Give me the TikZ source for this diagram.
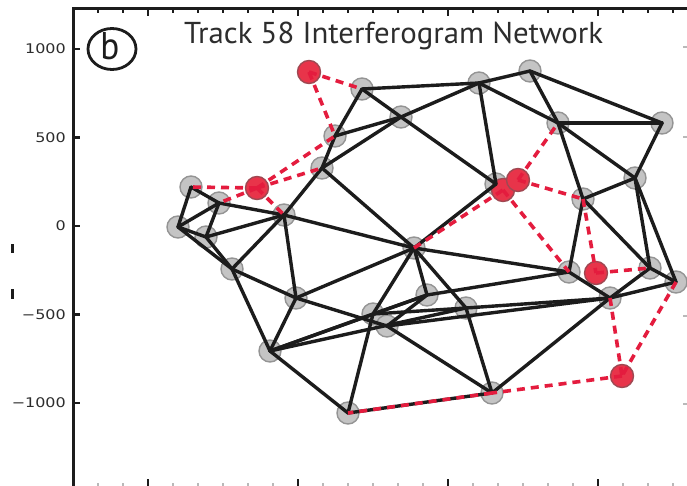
\documentclass[tikz,border=0pt]{standalone}
\usepackage{fontspec}
\setmainfont{PT Sans}
\newfontfamily\tickfont{DejaVu Sans}
\definecolor{axisdark}{RGB}{28,28,28}
\definecolor{textdark}{RGB}{45,45,45}
\definecolor{nodegray}{RGB}{196,196,196}
\definecolor{nodeedge}{RGB}{148,148,148}
\definecolor{nodered}{RGB}{232,52,74}
\definecolor{rededge}{RGB}{160,72,82}
\definecolor{linkblack}{RGB}{28,28,28}
\definecolor{linkred}{RGB}{228,28,62}
\definecolor{faintgray}{RGB}{185,185,185}
\tikzset{
  gnode/.style={circle, minimum size=22pt, inner sep=0pt, fill=nodegray, draw=nodeedge, line width=1.4pt},
  rnode/.style={circle, minimum size=23pt, inner sep=0pt, fill=nodered, draw=rededge, line width=1.4pt},
  link/.style={draw=linkblack, line width=3.4pt, line cap=round},
  rlink/.style={draw=linkred, line width=3.6pt, dash pattern=on 8pt off 6pt},
  axisline/.style={draw=axisdark, line width=3pt},
  ticklabel/.style={anchor=east, inner sep=0pt, text=textdark},
}
\begin{document}
\begin{tikzpicture}[x=1pt,y=-1pt]
\useasboundingbox (0,0) rectangle (687,486);
\fill[white] (0,0) rectangle (687,486);

% frame and ticks
\draw[axisline] (73,486) -- (73,8.5) -- (687,8.5);
\foreach \yy in {49,137.5,226,314.5,403} \draw[axisdark, line width=2.2pt] (73,\yy) -- (80,\yy);
\foreach \xx in {98,123,173,198,223,248,273,323,348,373,398,423,473,498,523,548,573,623,648,673} {
  \draw[axisdark, line width=1.3pt] (\xx,8.5) -- (\xx,13);
  \draw[faintgray, line width=1.5pt] (\xx,483) -- (\xx,486);
}
\foreach \xx in {148,298,448,598} {
  \draw[axisdark, line width=1.8pt] (\xx,8.5) -- (\xx,16);
  \draw[axisdark, line width=1.8pt] (\xx,479) -- (\xx,486);
}
\foreach \yy in {47,137,316,404} \draw[faintgray, line width=1.5pt] (683,\yy) -- (687,\yy);
\draw[axisdark, line width=3pt] (12,244) -- (12,253);
\draw[axisdark, line width=3pt] (12,289) -- (12,299);

% tick labels
\node[ticklabel] (t1) at (66,49) {\scalebox{1.2}[1]{\tickfont\fontsize{13.3}{14}\selectfont 1000}};
\node[ticklabel] (t2) at (66,137.5) {\scalebox{1.2}[1]{\tickfont\fontsize{13.3}{14}\selectfont 500}};
\node[ticklabel] (t3) at (66,226) {\scalebox{1.2}[1]{\tickfont\fontsize{13.3}{14}\selectfont 0}};
\node[ticklabel] (t4) at (66,314.5) {\scalebox{1.2}[1]{\tickfont\fontsize{13.3}{14}\selectfont −500}};
\node[ticklabel] (t5) at (66,403) {\scalebox{1.2}[1]{\tickfont\fontsize{13.3}{14}\selectfont −1000}};

% title and panel letter
\node[anchor=base west, inner sep=0pt, text=textdark] (title) at (184,44) {\resizebox{419pt}{21.5pt}{Track 58 Interferogram Network}};
\draw[axisdark, line width=2.8pt] (112,49) ellipse [x radius=24, y radius=20.5];
\node[anchor=base, inner sep=0pt, text=axisdark] (panel) at (110,60) {\resizebox{19pt}{27pt}{b}};

% acquisitions
\foreach \n/\px/\py in {A/178/227, B/191/187, C/219/203, D/206/237, E/232/269, F/284/215,
  G/296/298, H/270/351, I/322/168, J/335/136, K/362/89, L/401/117, M/479/83, N/530/71,
  O/558/123, P/662/123, Q/635/178, R/583/199, S/496/184, T/414/248, U/427/295, V/373/314,
  W/387/326, X/466/308, Y/569/272, Z/650/268, AA/676/282, AB/610/298, AC/492/393, AD/348/413}
  \node[gnode] (\n) at (\px,\py) {};
\foreach \n/\px/\py in {r1/309/72, r2/257/188, r3a/503/190, r3b/518/180, r4/596/273, r5/622/376}
  \node[rnode] (\n) at (\px,\py) {};

% interferogram pairs
\foreach \a/\b in {A/B, A/C, A/D, A/E, B/C, C/D, C/F, D/F, D/E, E/F, E/G, E/H,
  F/I, F/G, F/T, I/J, I/T, I/L, J/K, J/L, K/L, K/M, L/M, L/S,
  M/N, M/S, M/O, N/P, N/O, O/P, O/Q, O/R, P/Q, Q/R, Q/Z, Q/AA, R/Y, R/Z,
  S/T, T/G, T/V, T/U, T/X, T/Y, G/H, G/W, H/V, H/U, H/X, H/AD,
  V/U, V/X, V/AD, W/U, W/AC, W/AB, X/AC, X/AB, U/Y, Y/AB, Z/AB, Z/AA, AA/AB,
  AC/AD, AC/AB}
  \draw[link] (\a.center) -- (\b.center);

% pairs involving the rejected acquisitions
\foreach \a/\b in {r1/K, r1/J, r2/J, r2/I, r2/B, r2/C, r2/F, T/r3a, r3b/O, r3b/R,
  r3a/Y, R/r4, r4/Z, AB/r5, AA/r5, r5/AC, AC/AD}
  \draw[rlink] (\a.center) -- (\b.center);
\end{tikzpicture}
\end{document}
